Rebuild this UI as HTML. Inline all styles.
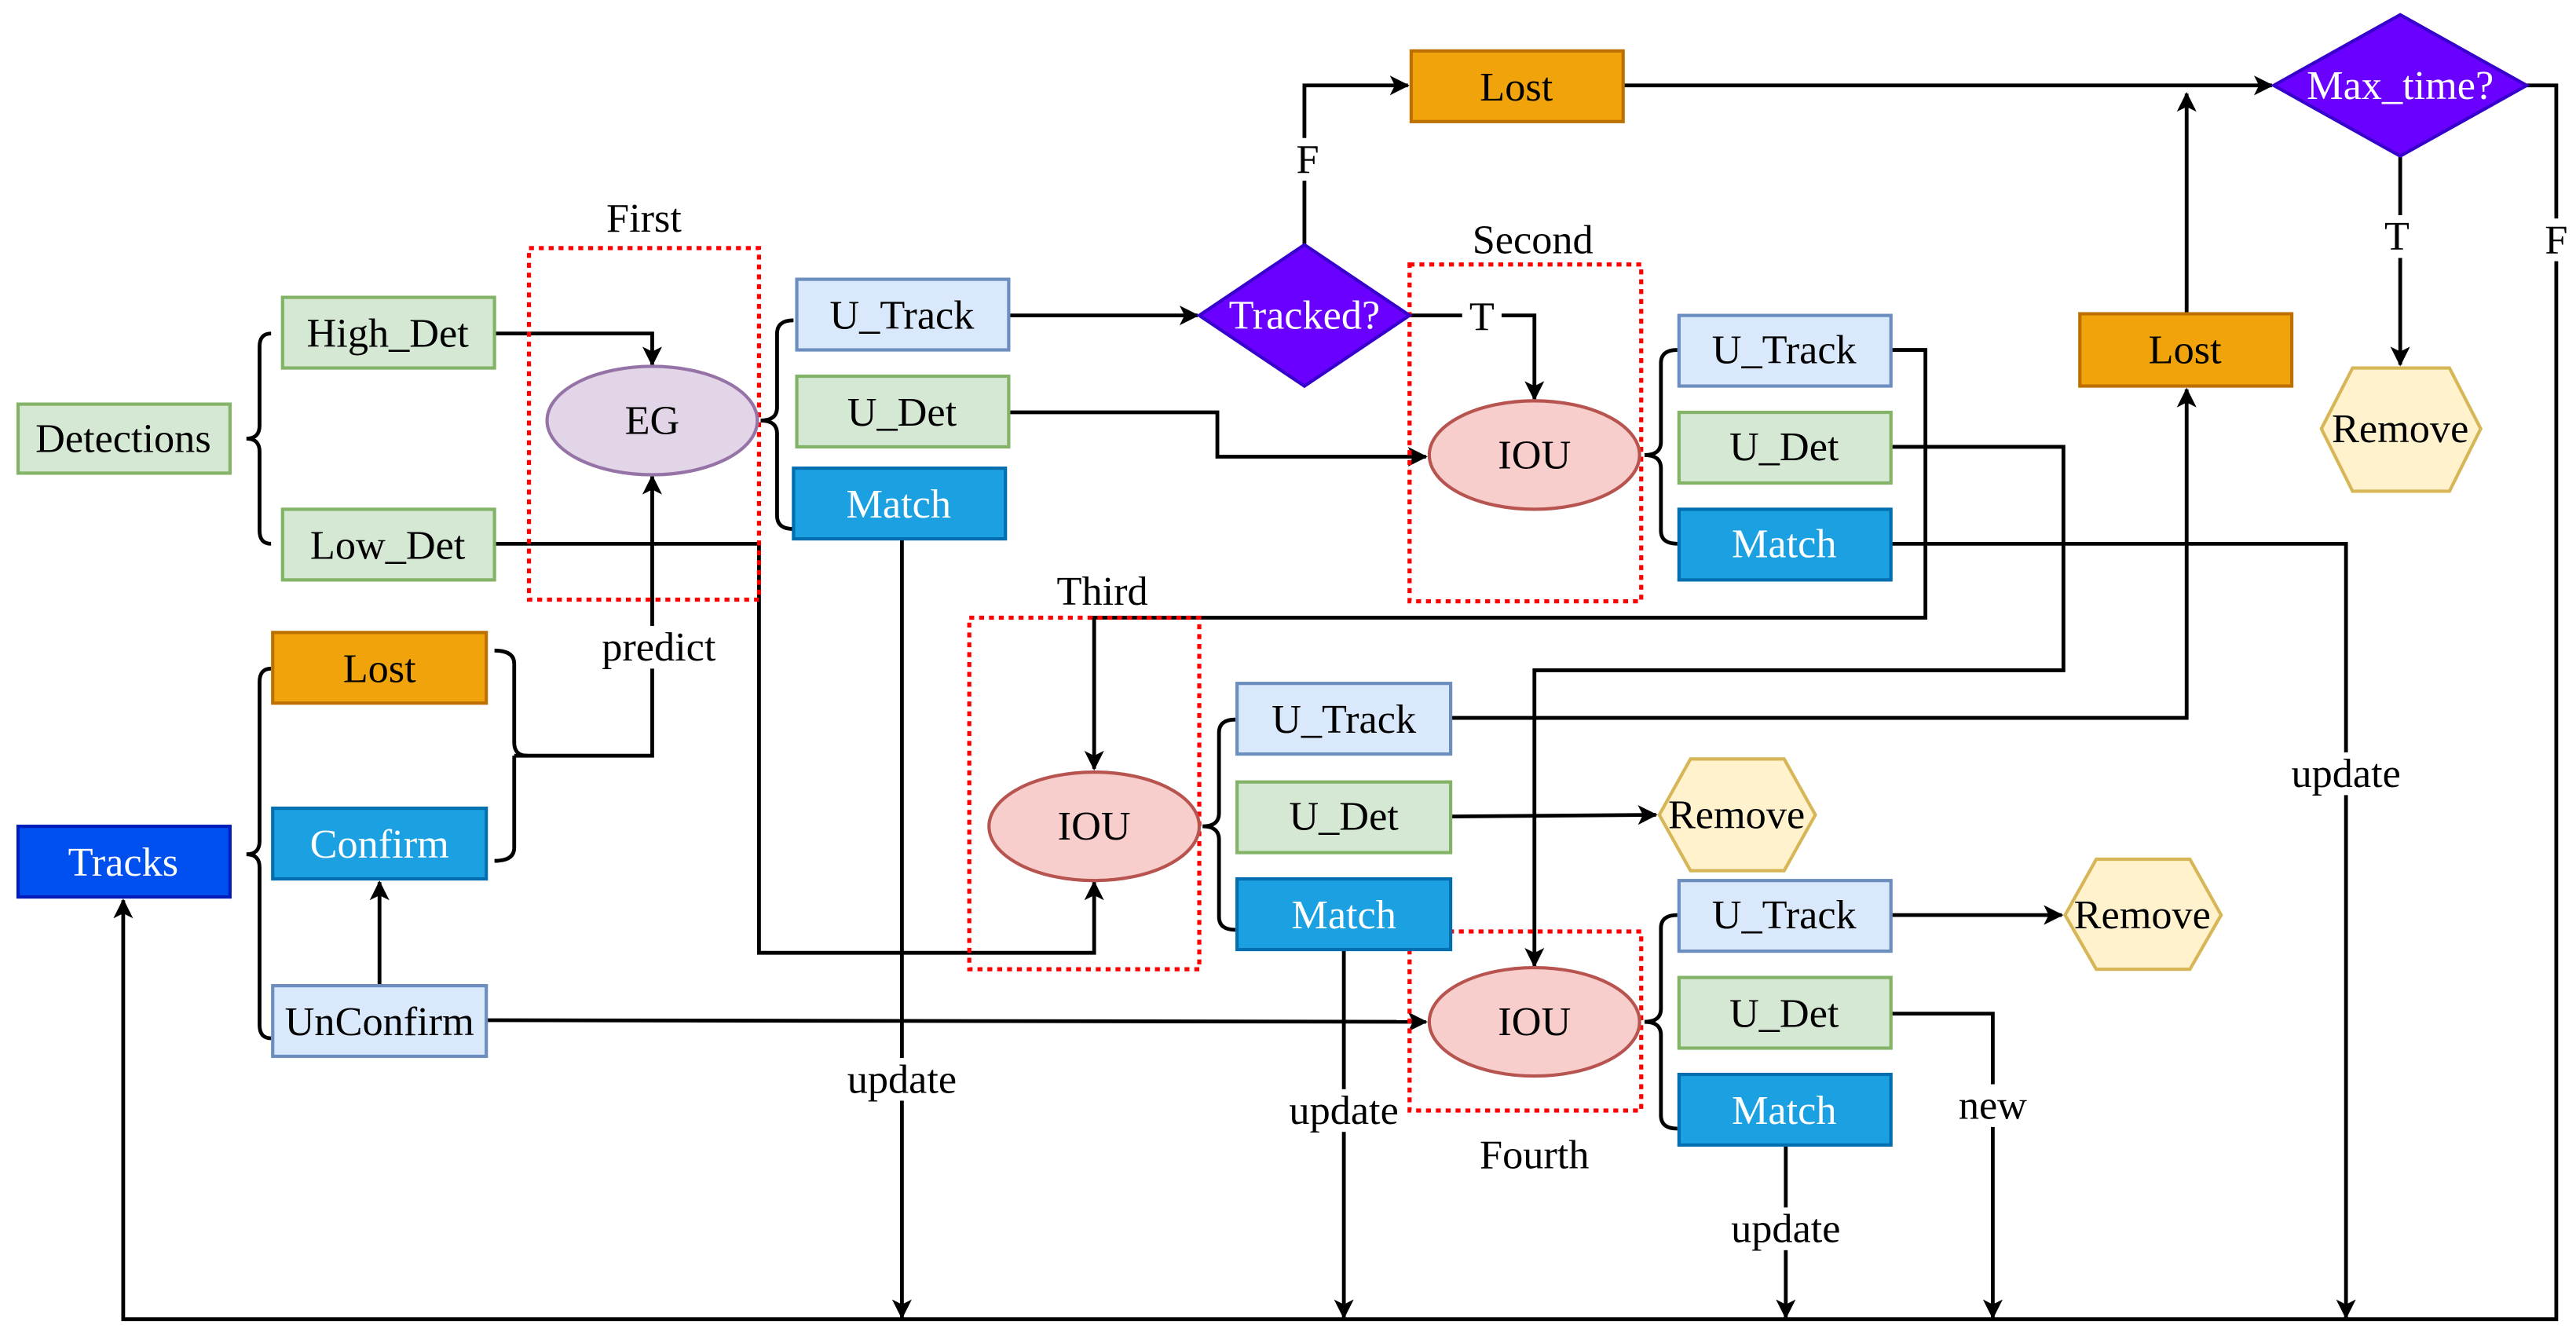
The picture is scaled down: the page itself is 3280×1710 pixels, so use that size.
<!DOCTYPE html>
<html><head><meta charset="utf-8"><style>
html,body{margin:0;padding:0;background:#fff}
svg{display:block}
.t text{font-family:"Liberation Serif","DejaVu Serif",serif;font-size:25px;text-anchor:middle;dominant-baseline:central}
.w{fill:#fff}
</style></head><body>
<svg width="3280" height="1710" viewBox="0 0 1568 817.5" preserveAspectRatio="none" xmlns="http://www.w3.org/2000/svg">
<defs>
<marker id="a" viewBox="0 0 12 12" refX="11" refY="6" markerWidth="12" markerHeight="12" orient="auto" markerUnits="userSpaceOnUse">
<path d="M0,0 L12,6 L0,12 L3,6 z" fill="#000"/>
</marker>
</defs>
<g fill="none" stroke="#000" stroke-width="2.3">
<path d="M165,203 Q158,203 158,211 L158,259 Q158,267 150,267 Q158,267 158,275 L158,323 Q158,331 165,331"/>
<path d="M165,407 Q158,407 158,415 L158,512 Q158,520 150,520 Q158,520 158,528 L158,624 Q158,632 165,632"/>
<path d="M301,396 Q313,396 313,404 L313,452 Q313,460 321,460 M313,460 Q313,468 313,468 L313,516 Q313,524 301,524"/>
<path d="M483,195 Q473,195 473,203 L473,248 Q473,256 463,256 Q473,256 473,264 L473,314 Q473,322 483,322"/>
<path d="M1021,213 Q1011,213 1011,221 L1011,269 Q1011,277 1001,277 Q1011,277 1011,285 L1011,323 Q1011,331 1021,331"/>
<path d="M752,438 Q742,438 742,446 L742,495 Q742,503 732,503 Q742,503 742,511 L742,558 Q742,566 752,566"/>
<path d="M1021,557 Q1011,557 1011,565 L1011,614 Q1011,622 1001,622 Q1011,622 1011,630 L1011,679 Q1011,687 1021,687"/>
<path d="M301,203 H397 V222" marker-end="url(#a)"/>
<path d="M313,460 H397 V290" marker-end="url(#a)"/>
<path d="M231,600 V537" marker-end="url(#a)"/>
<path d="M296,621 L868,622" marker-end="url(#a)"/>
<path d="M301,331 H462 V580 H666 V537" marker-end="url(#a)"/>
<path d="M614,192 H729" marker-end="url(#a)"/>
<path d="M794,149 V52 H857" marker-end="url(#a)"/>
<path d="M988,52 H1383" marker-end="url(#a)"/>
<path d="M1461,95 V222" marker-end="url(#a)"/>
<path d="M1538,52 H1556 V803 H75 V548" marker-end="url(#a)"/>
<path d="M858,192 H934 V243" marker-end="url(#a)"/>
<path d="M614,251 H741 V278 H868" marker-end="url(#a)"/>
<path d="M1151,213 H1172 V376 H666 V468" marker-end="url(#a)"/>
<path d="M1151,272 H1256 V408 H934 V588" marker-end="url(#a)"/>
<path d="M1151,331 H1428 V802" marker-end="url(#a)"/>
<path d="M1331,191 V57" marker-end="url(#a)"/>
<path d="M883,437 H1331 V237" marker-end="url(#a)"/>
<path d="M883,497 L1008,496" marker-end="url(#a)"/>
<path d="M818,578 V802" marker-end="url(#a)"/>
<path d="M549,328 V802" marker-end="url(#a)"/>
<path d="M1151,557 H1255" marker-end="url(#a)"/>
<path d="M1151,617 H1213 V802" marker-end="url(#a)"/>
<path d="M1087,697 V802" marker-end="url(#a)"/>
</g>
<g fill="none" stroke="#f00" stroke-width="2.5" stroke-dasharray="3 3">
<rect x="322" y="151" width="140" height="214"/>
<rect x="858" y="161" width="141" height="205"/>
<rect x="590" y="376" width="140" height="214"/>
<rect x="858" y="567" width="141" height="109"/>
</g>
<g stroke-width="2">
<g fill="#d5e8d4" stroke="#82b366">
<rect x="11" y="246" width="129" height="42"/>
<rect x="172" y="181" width="129" height="43"/>
<rect x="172" y="310" width="129" height="43"/>
<rect x="485" y="229" width="129" height="43"/>
<rect x="1022" y="251" width="129" height="43"/>
<rect x="753" y="476" width="130" height="43"/>
<rect x="1022" y="595" width="129" height="43"/>
</g>
<g fill="#dae8fc" stroke="#6c8ebf">
<rect x="485" y="170" width="129" height="43"/>
<rect x="1022" y="192" width="129" height="43"/>
<rect x="753" y="416" width="130" height="43"/>
<rect x="1022" y="536" width="129" height="43"/>
<rect x="166" y="600" width="130" height="43"/>
</g>
<g fill="#1ba1e2" stroke="#006eaf">
<rect x="483" y="285" width="129" height="43"/>
<rect x="1022" y="310" width="129" height="43"/>
<rect x="753" y="535" width="130" height="43"/>
<rect x="1022" y="654" width="129" height="43"/>
<rect x="166" y="492" width="130" height="43"/>
</g>
<g fill="#f0a30a" stroke="#bd7000">
<rect x="166" y="385" width="130" height="43"/>
<rect x="859" y="31" width="129" height="43"/>
<rect x="1266" y="191" width="129" height="44"/>
</g>
<rect x="11" y="503" width="129" height="43" fill="#0050ef" stroke="#001dbc"/>
<ellipse cx="397" cy="256" rx="64" ry="33" fill="#e1d5e7" stroke="#9673a6"/>
<g fill="#f8cecc" stroke="#b85450">
<ellipse cx="934" cy="277" rx="64" ry="33"/>
<ellipse cx="666" cy="503" rx="64" ry="33"/>
<ellipse cx="934" cy="622" rx="64" ry="33"/>
</g>
<g fill="#6a00ff" stroke="#3700cc">
<polygon points="730,192 794,149 858,192 794,235"/>
<polygon points="1384,52 1461,9 1538,52 1461,95"/>
</g>
<g fill="#fff2cc" stroke="#d6b656">
<polygon points="1413,261 1432,224 1491,224 1510,261 1491,299 1432,299"/>
<polygon points="1010,496 1029,462 1086,462 1105,496 1086,530 1029,530"/>
<polygon points="1257,557 1276,523 1333,523 1352,557 1333,590 1276,590"/>
</g>
</g>
<g fill="#fff">
<rect x="366" y="381" width="72" height="26"/>
<rect x="784" y="84" width="22" height="26"/>
<rect x="890" y="180" width="24" height="26"/>
<rect x="1447" y="131" width="24" height="26"/>
<rect x="1545" y="133" width="22" height="26"/>
<rect x="1394" y="458" width="68" height="26"/>
<rect x="514" y="644" width="70" height="26"/>
<rect x="783" y="663" width="70" height="26"/>
<rect x="1190" y="660" width="46" height="26"/>
<rect x="1052" y="735" width="70" height="26"/>
</g>
<g class="t">
<text x="75" y="267">Detections</text>
<text x="236" y="203">High_Det</text>
<text x="236" y="332">Low_Det</text>
<text x="231" y="407">Lost</text>
<text x="231" y="514" class="w">Confirm</text>
<text x="231" y="622">UnConfirm</text>
<text x="75" y="525" class="w">Tracks</text>
<text x="392" y="133">First</text>
<text x="397" y="256">EG</text>
<text x="401" y="394">predict</text>
<text x="549" y="192">U_Track</text>
<text x="549" y="251">U_Det</text>
<text x="547" y="307" class="w">Match</text>
<text x="794" y="192" class="w">Tracked?</text>
<text x="796" y="97">F</text>
<text x="923" y="53">Lost</text>
<text x="1461" y="52" class="w">Max_time?</text>
<text x="1459" y="144">T</text>
<text x="1556" y="146">F</text>
<text x="1461" y="261">Remove</text>
<text x="902" y="193">T</text>
<text x="933" y="146">Second</text>
<text x="934" y="277">IOU</text>
<text x="1086" y="213">U_Track</text>
<text x="1086" y="272">U_Det</text>
<text x="1086" y="331" class="w">Match</text>
<text x="1330" y="213">Lost</text>
<text x="1428" y="471">update</text>
<text x="671" y="360">Third</text>
<text x="666" y="503">IOU</text>
<text x="818" y="438">U_Track</text>
<text x="818" y="497">U_Det</text>
<text x="818" y="557" class="w">Match</text>
<text x="1057" y="496">Remove</text>
<text x="549" y="657">update</text>
<text x="818" y="676">update</text>
<text x="934" y="622">IOU</text>
<text x="934" y="703">Fourth</text>
<text x="1086" y="557">U_Track</text>
<text x="1086" y="617">U_Det</text>
<text x="1086" y="676" class="w">Match</text>
<text x="1304" y="557">Remove</text>
<text x="1213" y="673">new</text>
<text x="1087" y="748">update</text>
</g>
</svg>
</body></html>
